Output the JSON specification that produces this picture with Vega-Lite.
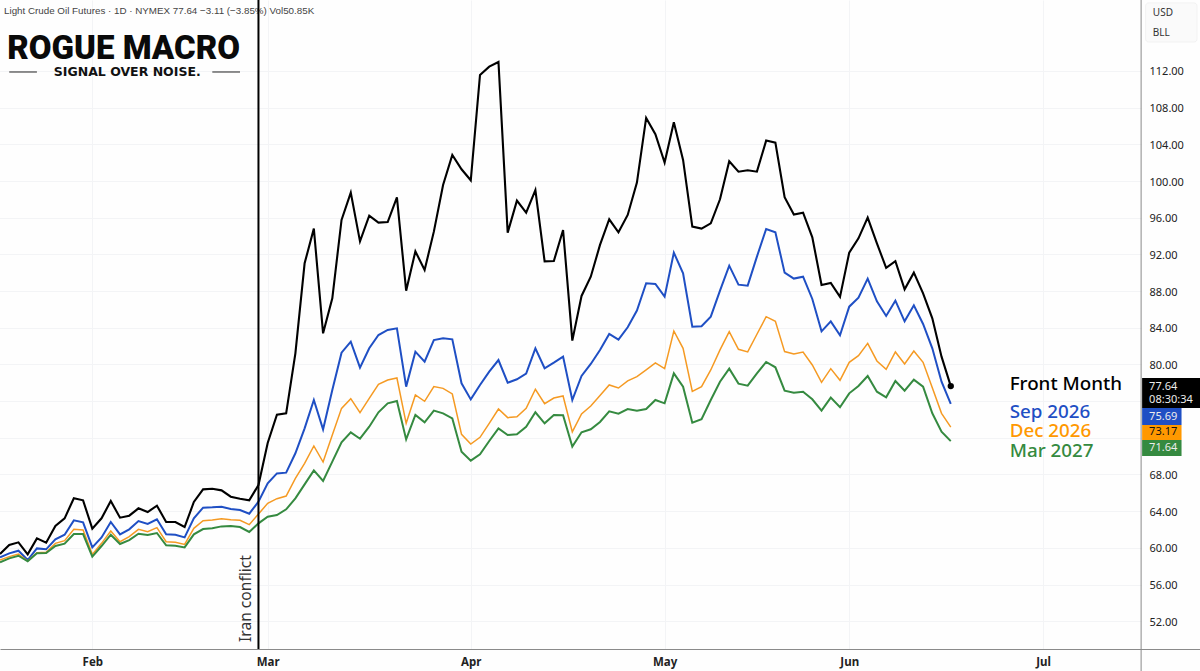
{"$schema":"https://vega.github.io/schema/vega-lite/v6.json","width":1141,"height":649,"autosize":{"type":"none"},"padding":{"left":0,"top":0,"right":59,"bottom":22},"background":"#fefefe","config":{"view":{"stroke":null},"font":"Noto Sans"},
"datasets":{"prices":[
{"date":"2026-01-19","front":59.33,"sep26":58.96,"dec26":58.67,"mar27":58.42},
{"date":"2026-01-20","front":60.31,"sep26":59.40,"dec26":59.04,"mar27":58.85},
{"date":"2026-01-21","front":60.60,"sep26":59.69,"dec26":59.33,"mar27":59.14},
{"date":"2026-01-22","front":59.29,"sep26":58.67,"dec26":58.56,"mar27":58.53},
{"date":"2026-01-23","front":61.03,"sep26":59.94,"dec26":59.47,"mar27":59.40},
{"date":"2026-01-26","front":60.56,"sep26":59.84,"dec26":59.51,"mar27":59.44},
{"date":"2026-01-27","front":62.38,"sep26":60.93,"dec26":60.49,"mar27":60.20},
{"date":"2026-01-28","front":63.22,"sep26":61.43,"dec26":60.78,"mar27":60.45},
{"date":"2026-01-29","front":65.40,"sep26":63.00,"dec26":62.02,"mar27":61.51},
{"date":"2026-01-30","front":65.18,"sep26":62.78,"dec26":61.94,"mar27":61.51},
{"date":"2026-02-02","front":62.09,"sep26":60.05,"dec26":59.29,"mar27":59.04},
{"date":"2026-02-03","front":63.22,"sep26":61.14,"dec26":60.49,"mar27":60.20},
{"date":"2026-02-04","front":65.11,"sep26":62.82,"dec26":61.83,"mar27":61.43},
{"date":"2026-02-05","front":63.29,"sep26":61.47,"dec26":60.67,"mar27":60.42},
{"date":"2026-02-06","front":63.51,"sep26":62.02,"dec26":61.22,"mar27":60.85},
{"date":"2026-02-09","front":64.31,"sep26":62.92,"dec26":62.02,"mar27":61.54},
{"date":"2026-02-10","front":63.91,"sep26":62.60,"dec26":61.76,"mar27":61.40},
{"date":"2026-02-11","front":64.60,"sep26":63.11,"dec26":62.20,"mar27":61.62},
{"date":"2026-02-12","front":62.82,"sep26":61.47,"dec26":60.67,"mar27":60.27},
{"date":"2026-02-13","front":62.82,"sep26":61.43,"dec26":60.60,"mar27":60.24},
{"date":"2026-02-17","front":62.27,"sep26":61.14,"dec26":60.38,"mar27":60.05},
{"date":"2026-02-18","front":65.00,"sep26":63.22,"dec26":62.13,"mar27":61.47},
{"date":"2026-02-19","front":66.38,"sep26":64.38,"dec26":62.96,"mar27":62.05},
{"date":"2026-02-20","front":66.45,"sep26":64.42,"dec26":63.03,"mar27":62.13},
{"date":"2026-02-23","front":66.27,"sep26":64.49,"dec26":63.18,"mar27":62.34},
{"date":"2026-02-24","front":65.58,"sep26":64.23,"dec26":63.07,"mar27":62.38},
{"date":"2026-02-25","front":65.36,"sep26":64.12,"dec26":63.00,"mar27":62.27},
{"date":"2026-02-26","front":65.18,"sep26":63.72,"dec26":62.53,"mar27":61.73},
{"date":"2026-02-27","front":66.85,"sep26":65.03,"dec26":63.69,"mar27":62.67},
{"date":"2026-03-02","front":71.43,"sep26":67.03,"dec26":64.85,"mar27":63.40},
{"date":"2026-03-03","front":74.52,"sep26":68.12,"dec26":65.36,"mar27":63.58},
{"date":"2026-03-04","front":74.67,"sep26":68.20,"dec26":65.65,"mar27":64.20},
{"date":"2026-03-05","front":81.21,"sep26":70.31,"dec26":67.58,"mar27":65.40},
{"date":"2026-03-06","front":91.03,"sep26":73.03,"dec26":69.22,"mar27":66.92},
{"date":"2026-03-09","front":94.81,"sep26":76.12,"dec26":71.11,"mar27":68.45},
{"date":"2026-03-10","front":83.39,"sep26":72.92,"dec26":69.36,"mar27":67.29},
{"date":"2026-03-11","front":87.21,"sep26":77.21,"dec26":72.31,"mar27":69.40},
{"date":"2026-03-12","front":95.75,"sep26":81.28,"dec26":75.21,"mar27":71.50},
{"date":"2026-03-13","front":98.73,"sep26":82.48,"dec26":76.27,"mar27":72.59},
{"date":"2026-03-16","front":93.42,"sep26":79.65,"dec26":74.74,"mar27":71.90},
{"date":"2026-03-17","front":96.22,"sep26":81.76,"dec26":76.30,"mar27":73.21},
{"date":"2026-03-18","front":95.46,"sep26":83.21,"dec26":77.83,"mar27":74.78},
{"date":"2026-03-19","front":95.53,"sep26":83.76,"dec26":78.30,"mar27":75.76},
{"date":"2026-03-20","front":98.22,"sep26":83.94,"dec26":78.52,"mar27":76.01},
{"date":"2026-03-23","front":88.04,"sep26":77.58,"dec26":73.58,"mar27":71.83},
{"date":"2026-03-24","front":92.33,"sep26":81.39,"dec26":76.67,"mar27":74.49},
{"date":"2026-03-25","front":90.30,"sep26":80.30,"dec26":75.98,"mar27":73.69},
{"date":"2026-03-26","front":94.48,"sep26":82.66,"dec26":77.58,"mar27":74.96},
{"date":"2026-03-27","front":99.57,"sep26":82.85,"dec26":77.39,"mar27":74.67},
{"date":"2026-03-30","front":102.84,"sep26":82.74,"dec26":76.78,"mar27":74.12},
{"date":"2026-03-31","front":101.28,"sep26":77.94,"dec26":72.38,"mar27":70.49},
{"date":"2026-04-01","front":100.08,"sep26":76.19,"dec26":71.32,"mar27":69.51},
{"date":"2026-04-02","front":111.56,"sep26":77.76,"dec26":72.05,"mar27":70.20},
{"date":"2026-04-06","front":112.47,"sep26":79.21,"dec26":73.58,"mar27":71.65},
{"date":"2026-04-07","front":112.98,"sep26":80.48,"dec26":75.14,"mar27":73.03},
{"date":"2026-04-08","front":94.37,"sep26":78.01,"dec26":74.20,"mar27":72.31},
{"date":"2026-04-09","front":97.86,"sep26":78.38,"dec26":74.30,"mar27":72.38},
{"date":"2026-04-10","front":96.55,"sep26":78.99,"dec26":75.21,"mar27":73.21},
{"date":"2026-04-13","front":99.02,"sep26":81.76,"dec26":77.29,"mar27":74.78},
{"date":"2026-04-14","front":91.24,"sep26":79.58,"dec26":75.72,"mar27":73.58},
{"date":"2026-04-15","front":91.28,"sep26":80.19,"dec26":76.34,"mar27":74.49},
{"date":"2026-04-16","front":94.66,"sep26":80.85,"dec26":76.56,"mar27":74.45},
{"date":"2026-04-17","front":82.60,"sep26":76.12,"dec26":72.64,"mar27":71.04},
{"date":"2026-04-20","front":87.47,"sep26":78.74,"dec26":74.60,"mar27":72.60},
{"date":"2026-04-21","front":89.57,"sep26":80.05,"dec26":75.47,"mar27":72.93},
{"date":"2026-04-22","front":93.03,"sep26":81.58,"dec26":76.60,"mar27":73.73},
{"date":"2026-04-23","front":95.83,"sep26":83.32,"dec26":77.76,"mar27":74.89},
{"date":"2026-04-24","front":94.41,"sep26":82.70,"dec26":77.43,"mar27":74.63},
{"date":"2026-04-27","front":96.30,"sep26":84.05,"dec26":78.20,"mar27":75.14},
{"date":"2026-04-28","front":99.83,"sep26":85.87,"dec26":78.67,"mar27":74.96},
{"date":"2026-04-29","front":106.88,"sep26":88.85,"dec26":79.40,"mar27":75.14},
{"date":"2026-04-30","front":105.10,"sep26":88.77,"dec26":80.16,"mar27":76.12},
{"date":"2026-05-01","front":102.01,"sep26":87.39,"dec26":79.54,"mar27":75.76},
{"date":"2026-05-04","front":106.40,"sep26":92.19,"dec26":83.65,"mar27":79.03},
{"date":"2026-05-05","front":102.30,"sep26":89.94,"dec26":81.76,"mar27":77.58},
{"date":"2026-05-06","front":95.03,"sep26":84.12,"dec26":77.07,"mar27":73.65},
{"date":"2026-05-07","front":94.81,"sep26":84.16,"dec26":77.58,"mar27":74.02},
{"date":"2026-05-08","front":95.39,"sep26":85.21,"dec26":79.40,"mar27":76.12},
{"date":"2026-05-11","front":98.01,"sep26":88.05,"dec26":81.58,"mar27":78.12},
{"date":"2026-05-12","front":102.15,"sep26":90.77,"dec26":83.58,"mar27":79.54},
{"date":"2026-05-13","front":101.02,"sep26":88.70,"dec26":81.65,"mar27":77.91},
{"date":"2026-05-14","front":101.17,"sep26":88.59,"dec26":81.36,"mar27":77.69},
{"date":"2026-05-15","front":101.02,"sep26":91.76,"dec26":83.29,"mar27":79.03},
{"date":"2026-05-18","front":104.41,"sep26":94.77,"dec26":85.21,"mar27":80.27},
{"date":"2026-05-19","front":104.19,"sep26":94.41,"dec26":84.70,"mar27":79.69},
{"date":"2026-05-20","front":98.23,"sep26":90.01,"dec26":81.40,"mar27":77.14},
{"date":"2026-05-21","front":96.34,"sep26":89.36,"dec26":81.14,"mar27":76.92},
{"date":"2026-05-22","front":96.55,"sep26":89.57,"dec26":81.36,"mar27":77.03},
{"date":"2026-05-26","front":93.86,"sep26":87.14,"dec26":79.94,"mar27":76.20},
{"date":"2026-05-27","front":88.67,"sep26":83.61,"dec26":78.05,"mar27":74.96},
{"date":"2026-05-28","front":88.88,"sep26":84.70,"dec26":79.54,"mar27":76.38},
{"date":"2026-05-29","front":87.36,"sep26":83.18,"dec26":78.27,"mar27":75.33},
{"date":"2026-06-01","front":92.19,"sep26":86.30,"dec26":80.23,"mar27":76.85},
{"date":"2026-06-02","front":93.75,"sep26":87.28,"dec26":80.96,"mar27":77.65},
{"date":"2026-06-03","front":96.01,"sep26":89.36,"dec26":82.30,"mar27":78.74},
{"date":"2026-06-04","front":93.21,"sep26":86.88,"dec26":80.38,"mar27":77.03},
{"date":"2026-06-05","front":90.52,"sep26":85.29,"dec26":79.47,"mar27":76.42},
{"date":"2026-06-08","front":91.25,"sep26":86.96,"dec26":81.36,"mar27":78.20},
{"date":"2026-06-09","front":88.19,"sep26":84.70,"dec26":80.05,"mar27":77.14},
{"date":"2026-06-10","front":90.01,"sep26":86.45,"dec26":81.47,"mar27":78.34},
{"date":"2026-06-11","front":87.76,"sep26":84.41,"dec26":80.23,"mar27":77.58},
{"date":"2026-06-12","front":85.03,"sep26":81.76,"dec26":77.47,"mar27":74.67},
{"date":"2026-06-15","front":80.85,"sep26":78.12,"dec26":74.67,"mar27":72.67},
{"date":"2026-06-16","front":77.64,"sep26":75.69,"dec26":73.17,"mar27":71.64}
],
"tags":[
{"series":"Front Month","date":"2026-07-17","date2":"2026-07-27","top":78.52,"bottom":75.25},
{"series":"Sep 2026","date":"2026-07-17","date2":"2026-07-23","top":75.25,"bottom":73.40},
{"series":"Dec 2026","date":"2026-07-17","date2":"2026-07-23","top":73.40,"bottom":71.76},
{"series":"Mar 2027","date":"2026-07-17","date2":"2026-07-23","top":71.76,"bottom":70.02}
],
"labels":[
{"series":"Front Month","date":"2026-06-25","level":77.87},
{"series":"Sep 2026","date":"2026-06-25","level":74.81},
{"series":"Dec 2026","date":"2026-06-25","level":72.74},
{"series":"Mar 2027","date":"2026-06-25","level":70.56}
]},
"encoding":{"x":{"field":"date","type":"ordinal","title":null,"scale":{"type":"point","padding":0,"range":[0,1200],"domain":["2026-01-19","2026-01-20","2026-01-21","2026-01-22","2026-01-23","2026-01-26","2026-01-27","2026-01-28","2026-01-29","2026-01-30","2026-02-02","2026-02-03","2026-02-04","2026-02-05","2026-02-06","2026-02-09","2026-02-10","2026-02-11","2026-02-12","2026-02-13","2026-02-17","2026-02-18","2026-02-19","2026-02-20","2026-02-23","2026-02-24","2026-02-25","2026-02-26","2026-02-27","2026-03-02","2026-03-03","2026-03-04","2026-03-05","2026-03-06","2026-03-09","2026-03-10","2026-03-11","2026-03-12","2026-03-13","2026-03-16","2026-03-17","2026-03-18","2026-03-19","2026-03-20","2026-03-23","2026-03-24","2026-03-25","2026-03-26","2026-03-27","2026-03-30","2026-03-31","2026-04-01","2026-04-02","2026-04-06","2026-04-07","2026-04-08","2026-04-09","2026-04-10","2026-04-13","2026-04-14","2026-04-15","2026-04-16","2026-04-17","2026-04-20","2026-04-21","2026-04-22","2026-04-23","2026-04-24","2026-04-27","2026-04-28","2026-04-29","2026-04-30","2026-05-01","2026-05-04","2026-05-05","2026-05-06","2026-05-07","2026-05-08","2026-05-11","2026-05-12","2026-05-13","2026-05-14","2026-05-15","2026-05-18","2026-05-19","2026-05-20","2026-05-21","2026-05-22","2026-05-26","2026-05-27","2026-05-28","2026-05-29","2026-06-01","2026-06-02","2026-06-03","2026-06-04","2026-06-05","2026-06-08","2026-06-09","2026-06-10","2026-06-11","2026-06-12","2026-06-15","2026-06-16","2026-06-17","2026-06-18","2026-06-22","2026-06-23","2026-06-24","2026-06-25","2026-06-26","2026-06-29","2026-06-30","2026-07-01","2026-07-02","2026-07-06","2026-07-07","2026-07-08","2026-07-09","2026-07-10","2026-07-13","2026-07-14","2026-07-15","2026-07-16","2026-07-17","2026-07-20","2026-07-21","2026-07-22","2026-07-23","2026-07-24","2026-07-27"]},"axis":{"values":["2026-02-02","2026-03-02","2026-04-01","2026-05-01","2026-06-01","2026-07-01"],"labelExpr":"{'2026-02-02':'Feb','2026-03-02':'Mar','2026-04-01':'Apr','2026-05-01':'May','2026-06-01':'Jun','2026-07-01':'Jul'}[datum.value]","grid":true,"gridColor":"#f3f4f6","gridWidth":1,"ticks":false,"domain":true,"domainColor":"#8a8a8a","domainWidth":1,"labelAngle":0,"labelFontSize":11.5,"labelFontWeight":"bold","labelColor":"#222222","labelPadding":7,"labelFont":"Noto Sans"}}},
"layer":[
{"data":{"name":"prices"},"mark":{"type":"line","color":"#000000","strokeWidth":2.1,"clip":true},"encoding":{"y":{"field":"front","type":"quantitative","title":null,"scale":{"domain":[48.97,119.74],"nice":false,"zero":false},"axis":{"orient":"right","values":[52,56,60,64,68,72,76,80,84,88,92,96,100,104,108,112],"format":".2f","grid":true,"gridColor":"#f3f4f6","gridWidth":1,"ticks":false,"domain":false,"labelFontSize":11,"labelColor":"#222222","labelPadding":8,"labelOffset":1,"labelFont":"Noto Sans"}}}},
{"data":{"name":"prices"},"mark":{"type":"line","color":"#1f4fc4","strokeWidth":2,"clip":true},"encoding":{"y":{"field":"sep26","type":"quantitative"}}},
{"data":{"name":"prices"},"mark":{"type":"line","color":"#f59a23","strokeWidth":1.5,"clip":true},"encoding":{"y":{"field":"dec26","type":"quantitative"}}},
{"data":{"name":"prices"},"mark":{"type":"line","color":"#358a40","strokeWidth":2,"clip":true},"encoding":{"y":{"field":"mar27","type":"quantitative"}}},
{"data":{"values":[{"date":"2026-06-16","level":77.64}]},"mark":{"type":"point","filled":true,"color":"#000000","size":40,"opacity":1},"encoding":{"y":{"field":"level","type":"quantitative"}}},
{"data":{"values":[{"date":"2026-01-19","level":118.54,"label":"Light Crude Oil Futures · 1D · NYMEX  77.64  −3.11 (−3.85%)  Vol50.85K"}]},"mark":{"type":"text","align":"left","baseline":"middle","dx":4,"font":"Liberation Sans","fontSize":9.8,"color":"#444444"},"encoding":{"y":{"field":"level","type":"quantitative"},"text":{"field":"label"}}},
{"data":{"values":[{"date":"2026-02-27"}]},"mark":{"type":"rule","color":"#000000","strokeWidth":2},"encoding":{}},
{"data":{"values":[{"date":"2026-02-27","level":49.73,"label":"Iran conflict"}]},"mark":{"type":"text","angle":270,"align":"left","baseline":"bottom","dy":-4,"font":"Noto Sans","fontSize":15.6,"color":"#333333"},"encoding":{"y":{"field":"level","type":"quantitative"},"text":{"field":"label"}}},
{"data":{"values":[{"date":"2026-01-20","level":114.4,"label":"ROGUE MACRO"}]},"mark":{"type":"text","align":"left","baseline":"middle","dx":-2,"font":"Roboto","fontWeight":900,"fontSize":33,"color":"#0a0a0a"},"encoding":{"y":{"field":"level","type":"quantitative"},"text":{"field":"label"}}},
{"data":{"values":[{"date":"2026-02-06","level":111.89,"label":"SIGNAL OVER NOISE."}]},"mark":{"type":"text","align":"center","baseline":"middle","dx":-2,"font":"DejaVu Sans","fontWeight":"bold","fontSize":12.5,"color":"#111111"},"encoding":{"y":{"field":"level","type":"quantitative"},"text":{"field":"label"}}},
{"data":{"values":[{"date":"2026-01-20","date2":"2026-01-23","level":111.89},{"date":"2026-02-20","date2":"2026-02-25","level":111.89}]},"mark":{"type":"rule","color":"#222222","strokeWidth":1},"encoding":{"x2":{"field":"date2"},"y":{"field":"level","type":"quantitative"}}},
{"data":{"values":[{"date":"2026-07-17","level":119.74,"level2":46.57}]},"mark":{"type":"rule","color":"#8a8a8a","strokeWidth":1,"xOffset":-3.5},"encoding":{"y":{"field":"level","type":"quantitative"},"y2":{"field":"level2"}}},
{"data":{"values":[{"date":"2026-07-17","date2":"2026-07-27","top":119.42,"bottom":115.16}]},"mark":{"type":"rect","fill":"#fafafa","stroke":"#f2f2f2","cornerRadius":3,"xOffset":1,"x2Offset":-3},"encoding":{"x2":{"field":"date2"},"y":{"field":"top","type":"quantitative"},"y2":{"field":"bottom"}}},
{"data":{"values":[{"date":"2026-07-20","level":118.32,"label":"USD"},{"date":"2026-07-20","level":116.14,"label":"BLL"}]},"mark":{"type":"text","align":"left","baseline":"middle","dx":-1,"font":"Noto Sans","fontSize":10,"color":"#333333"},"encoding":{"y":{"field":"level","type":"quantitative"},"text":{"field":"label"}}},
{"data":{"name":"tags"},"mark":{"type":"rect","xOffset":-2.5},"encoding":{"x2":{"field":"date2"},"y":{"field":"top","type":"quantitative"},"y2":{"field":"bottom"},"color":{"field":"series","type":"nominal","legend":null,"scale":{"domain":["Front Month","Sep 2026","Dec 2026","Mar 2027"],"range":["#000000","#1f4fc4","#ff9800","#358a40"]}}}},
{"data":{"values":[{"date":"2026-07-17","level":77.54,"label":"77.64"},{"date":"2026-07-17","level":76.12,"label":"08:30:34"},{"date":"2026-07-17","level":74.27,"label":"75.69"},{"date":"2026-07-17","level":70.89,"label":"71.64"}]},"mark":{"type":"text","align":"left","baseline":"middle","dx":4.5,"font":"Noto Sans","fontSize":11,"color":"#ececec"},"encoding":{"y":{"field":"level","type":"quantitative"},"text":{"field":"label"}}},
{"data":{"values":[{"date":"2026-07-17","level":72.63,"label":"73.17"}]},"mark":{"type":"text","align":"left","baseline":"middle","dx":4.5,"font":"Noto Sans","fontSize":11,"color":"#111111"},"encoding":{"y":{"field":"level","type":"quantitative"},"text":{"field":"label"}}},
{"data":{"name":"labels"},"mark":{"type":"text","align":"left","baseline":"middle","dx":3.5,"font":"Noto Sans","fontSize":18.8,"fontWeight":500},"encoding":{"y":{"field":"level","type":"quantitative"},"text":{"field":"series"},"color":{"field":"series","type":"nominal","legend":null}}}
]}
